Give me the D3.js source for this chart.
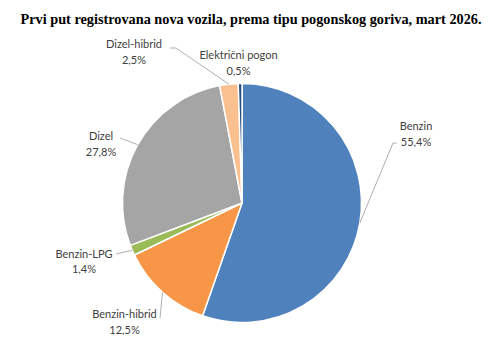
<!DOCTYPE html>
<html>
<head>
<meta charset="utf-8">
<script src="https://cdn.jsdelivr.net/npm/d3@7"></script>
<style>
  html, body { margin: 0; padding: 0; background: #fff; }
  svg { display: block; }
</style>
</head>
<body>
<svg id="chart" width="489" height="345"></svg>
<script>
// ---- data ----
const title = "Prvi put registrovana nova vozila, prema tipu pogonskog goriva, mart 2026.";
const categories = ["Benzin", "Benzin-hibrid", "Benzin-LPG", "Dizel", "Dizel-hibrid", "Električni pogon"];
const values = [55.4, 12.5, 1.4, 27.8, 2.5, 0.5];
const colors = ["#4F81BD", "#F79646", "#9BBB59", "#A5A5A5", "#FAC090", "#1F497D"];

// ---- layout (label placement, px) ----
const labelPos = [
  { x: 416, y: 130, line: [[393, 143], [397, 143]] },
  { x: 124.5, y: 318, line: [[160, 318], [160, 318]] },
  { x: 84, y: 257.5, line: [[116, 254], [116, 254]] },
  { x: 101, y: 140, line: [[120, 138], [120, 138]] },
  { x: 134, y: 48, line: [[176, 48], [170, 48]] },
  { x: 238.5, y: 59, line: null }
];

const W = 489, H = 345;
const cx = 242, cy = 203, R = 119.5;
const svg = d3.select("#chart");

svg.append("text")
  .attr("x", 251).attr("y", 24)
  .attr("text-anchor", "middle")
  .attr("font-family", "Liberation Serif, serif")
  .attr("font-weight", "bold")
  .attr("font-size", 14)
  .attr("fill", "#000")
  .attr("textLength", 461)
  .attr("lengthAdjust", "spacingAndGlyphs")
  .text(title);

const data = categories.map((c, i) => ({ name: c, value: values[i], color: colors[i], pos: labelPos[i] }));
const pie = d3.pie().value(d => d.value).sort(null);
const arcs = pie(data);
const arc = d3.arc().innerRadius(0).outerRadius(R);

const g = svg.append("g").attr("transform", `translate(${cx},${cy})`);
g.selectAll("path.slice").data(arcs).enter().append("path")
  .attr("class", "slice")
  .attr("d", arc)
  .attr("fill", d => d.data.color)
  .attr("stroke", "#fff")
  .attr("stroke-width", 1.5)
  .attr("stroke-linejoin", "round");

const fmt = v => v.toFixed(1).replace(".", ",") + "%";

// leader lines
arcs.forEach(a => {
  const p = a.data.pos;
  if (!p.line) return;
  const mid = (a.startAngle + a.endAngle) / 2;
  const px = cx + R * Math.sin(mid), py = cy - R * Math.cos(mid);
  const pts = [[px, py], p.line[0], p.line[1]];
  svg.append("path")
    .attr("d", d3.line()(pts))
    .attr("fill", "none")
    .attr("stroke", "#A6A6A6")
    .attr("stroke-width", 0.9);
});

// labels
arcs.forEach(a => {
  const p = a.data.pos;
  const t = svg.append("text")
    .attr("text-anchor", "middle")
    .attr("font-family", "Lato, sans-serif")
    .attr("font-size", 11)
    .attr("fill", "#404040");
  t.append("tspan").attr("x", p.x).attr("y", p.y).text(a.data.name);
  t.append("tspan").attr("x", p.x).attr("y", p.y + 15.5).text(fmt(a.data.value));
});
</script>
</body>
</html>
